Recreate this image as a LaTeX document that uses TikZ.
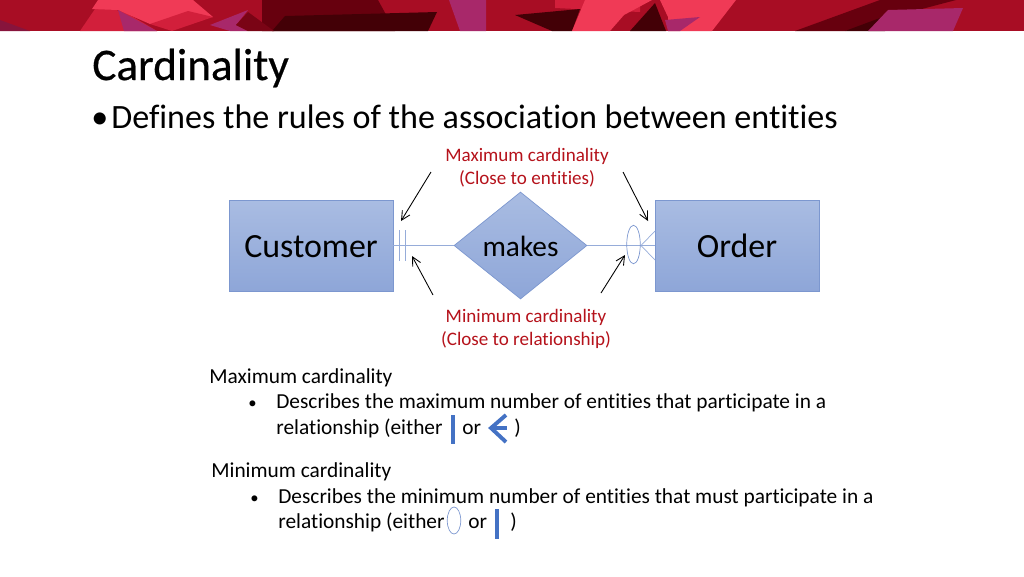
\documentclass[tikz,border=0pt]{standalone}
\usepackage{fontspec}
\setmainfont[RawFeature=-liga]{Carlito}
\newfontfamily\titlefont[FakeBold=0.5,RawFeature=-liga]{Carlito}
\usetikzlibrary{shapes.geometric,arrows.meta}
\definecolor{bannerbase}{HTML}{A80D24}
\definecolor{bannerpink}{HTML}{F03A56}
\definecolor{bannermid}{HTML}{D21F3B}
\definecolor{bannerdark}{HTML}{67000E}
\definecolor{bannerdeep}{HTML}{430006}
\definecolor{bannerplum}{HTML}{A8286A}
\definecolor{boxtop}{HTML}{A9BCE2}
\definecolor{boxbot}{HTML}{8EA6D8}
\definecolor{boxline}{HTML}{7C97CF}
\definecolor{notered}{HTML}{B5121B}
\definecolor{markblue}{HTML}{4472C4}
\tikzset{
  entity/.style={draw=boxline,top color=boxtop,bottom color=boxbot,minimum width=3.28cm,minimum height=1.82cm,inner sep=0pt,text height=14pt,text depth=0pt,font=\fontsize{19.3pt}{20pt}\selectfont},
  relation/.style={diamond,draw=boxline,top color=boxtop,bottom color=boxbot,minimum width=2.66cm,minimum height=2.14cm,aspect=1.243,inner sep=0pt,text height=12.5pt,text depth=0pt,font=\fontsize{16.7pt}{17pt}\selectfont},
  link/.style={draw=boxline!80,line width=0.4pt},
  note/.style={notered,font=\fontsize{10.85pt}{12pt}\selectfont},
  body/.style={anchor=base west,inner sep=0pt,font=\fontsize{12.16pt}{14pt}\selectfont},
  bodydot/.style={anchor=base west,inner sep=0pt,font=\fontsize{9.5pt}{14pt}\selectfont},
  pointer/.style={-{Straight Barb[length=5pt,width=5pt]},line width=0.5pt},
  bigbar/.style={draw=markblue,line width=2.2pt},
}
\begin{document}
\begin{tikzpicture}[x=0.02cm,y=-0.02cm]
\useasboundingbox (0,0) rectangle (1024,576);
% banner
\fill[bannerbase] (0,0) rectangle (1024,31);
\fill[bannerplum!50!bannerdark] (0,20) -- (30,31) -- (0,31) -- cycle;
\fill[bannerdark] (262,0) -- (378,0) -- (395,31) -- (262,31) -- cycle;
\fill[bannerdeep] (285,16) -- (437,12) -- (428,31) -- (272,31) -- cycle;
\fill[bannermid] (80,31) -- (97,6) -- (125,12) -- (157,31) -- cycle;
\fill[bannerpink] (98,0) -- (193,0) -- (213,17) -- (150,24) -- (118,10) -- (92,9) -- cycle;
\fill[bannerplum] (118,10) -- (157,31) -- (124,31) -- cycle;
\fill[bannermid] (150,24) -- (188,11) -- (213,17) -- (172,31) -- cycle;
\fill[bannerplum] (210,25) -- (248,10) -- (236,25) -- (248,31) -- (230,31) -- cycle;
\fill[bannerdark!70!bannerbase] (236,25) -- (248,12) -- (274,31) -- (248,31) -- cycle;
\fill[bannerplum] (449,0) -- (486,0) -- (486,31) -- (460,31) -- cycle;
\fill[bannermid] (555,0) -- (640,0) -- (640,12) -- (555,8) -- cycle;
\fill[bannerdeep] (515,15) -- (580,9) -- (572,31) -- (552,31) -- cycle;
\fill[bannerpink] (585,0) -- (652,0) -- (624,15) -- (610,31) -- (572,31) -- cycle;
\fill[bannerpink] (660,0) -- (736,0) -- (712,31) -- (668,31) -- (668,17) -- cycle;
\fill[bannerplum] (665,20) -- (700,17) -- (680,31) -- (668,31) -- cycle;
\fill[bannerdeep] (655,3) -- (666,31) -- (630,31) -- cycle;
\fill[bannerdark] (795,31) -- (880,0) -- (956,0) -- (880,20) -- (845,31) -- cycle;
\fill[bannerdeep] (845,31) -- (880,18) -- (885,31) -- cycle;
\fill[bannerplum] (888,10) -- (963,8) -- (953,31) -- (868,31) -- cycle;
% title
\node[anchor=base west,inner sep=0pt,font=\titlefont\fontsize{25.7pt}{28pt}\selectfont] (title) at (92,80) {Cardinality};
\node[anchor=base west,inner sep=0pt,font=\fontsize{19.4pt}{22pt}\selectfont] (titledot) at (91,128) {•};
\node[anchor=base west,inner sep=0pt,font=\fontsize{19.4pt}{22pt}\selectfont] (defines) at (111,128) {Defines the rules of the association between entities};
% diagram
\node[entity] (customer) at (311,245.5) {Customer};
\node[entity] (order) at (737,245.5) {Order};
\node[relation] (makes) at (520.5,245.5) {makes};
\draw[link] (customer) -- (makes);
\draw[link] (makes) -- (order);
\coordinate (barA1) at (399,230); \coordinate (barA2) at (399,261);
\coordinate (barB1) at (405,230); \coordinate (barB2) at (405,261);
\draw[link] (barA1) -- (barA2);
\draw[link] (barB1) -- (barB2);
\node[draw=boxline,line width=0.4pt,ellipse,minimum width=0.27cm,minimum height=0.77cm,inner sep=0pt] (zero) at (633.5,244.5) {};
\coordinate (crow) at (641,245.5);
\coordinate (crowup) at (655,231); \coordinate (crowdown) at (655,260);
\draw[link] (crow) -- (crowup);
\draw[link] (crow) -- (crowdown);
% notes
\node[note] (maxnote) at (527,156) {Maximum cardinality};
\node[note] (maxclose) at (527,179) {(Close to entities)};
\node[note] (minnote) at (526,317) {Minimum cardinality};
\node[note] (minclose) at (526,340) {(Close to relationship)};
\coordinate (a1) at (431,172); \coordinate (a2) at (401,221);
\coordinate (b1) at (623,172); \coordinate (b2) at (648,221);
\coordinate (c1) at (433,295); \coordinate (c2) at (412,256);
\coordinate (d1) at (601,293); \coordinate (d2) at (625,255);
\draw[pointer] (a1) -- (a2);
\draw[pointer] (b1) -- (b2);
\draw[pointer] (c1) -- (c2);
\draw[pointer] (d1) -- (d2);
% text
\node[body] (maxhead) at (209,383) {Maximum cardinality};
\node[bodydot] (maxdot) at (248,408) {•};
\node[body] (maxline) at (276,408) {Describes the maximum number of entities that participate in a};
\node[body] (maxrel) at (276,434) {relationship (either};
\node[body] (maxor) at (462,434) {or};
\node[body] (maxend) at (514,434) {)};
\coordinate (ib1) at (453,415); \coordinate (ib2) at (453,444);
\draw[bigbar] (ib1) -- (ib2);
\coordinate (ic1) at (506,415); \coordinate (ic2) at (491,428); \coordinate (ic3) at (506,442); \coordinate (ic4) at (507,428);
\draw[bigbar] (ic1) -- (ic2) -- (ic3);
\draw[bigbar] (ic2) -- (ic4);
\node[body] (minhead) at (211,477) {Minimum cardinality};
\node[bodydot] (mindot) at (250,503) {•};
\node[body] (minline) at (278,503) {Describes the minimum number of entities that must participate in a};
\node[body] (minrel) at (278,528) {relationship (either};
\node[body] (minor) at (468,528) {or};
\node[body] (minend) at (510,528) {)};
\node[draw=boxline,line width=0.4pt,ellipse,minimum width=0.27cm,minimum height=0.54cm,inner sep=0pt] (izero) at (454,520.5) {};
\coordinate (id1) at (497,509); \coordinate (id2) at (497,539);
\draw[bigbar] (id1) -- (id2);
\end{tikzpicture}
\end{document}
